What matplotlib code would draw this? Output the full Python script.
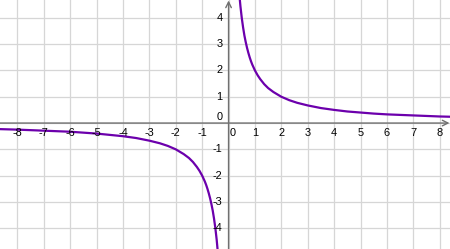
import matplotlib
matplotlib.use("Agg")
import matplotlib.pyplot as plt

# points (right and left branch)
x_right = [0.42, 0.45, 0.5, 0.55, 0.6, 0.65, 0.7, 0.75, 0.8, 0.85, 0.9, 0.95, 1.0, 1.1, 1.2,
           1.35, 1.5, 1.7, 2.0, 2.3, 2.6, 3.0, 3.5, 4.0, 4.5, 5.0, 5.5, 6.0, 7.0, 8.0, 8.4]
y_right = [4.76, 4.44, 4.0, 3.64, 3.33, 3.08, 2.86, 2.67, 2.5, 2.35, 2.22, 2.11, 2.0, 1.82, 1.67,
           1.48, 1.33, 1.18, 1.0, 0.87, 0.77, 0.67, 0.57, 0.5, 0.44, 0.4, 0.36, 0.33, 0.29, 0.25, 0.24]
x_left = [-8.7, -8.0, -7.0, -6.0, -5.0, -4.0, -3.5, -3.0, -2.6, -2.3, -2.0, -1.7, -1.5, -1.35,
          -1.2, -1.1, -1.0, -0.95, -0.9, -0.85, -0.8, -0.75, -0.7, -0.65, -0.6, -0.55, -0.5,
          -0.45, -0.41]
y_left = [-0.23, -0.25, -0.29, -0.33, -0.4, -0.5, -0.57, -0.67, -0.77, -0.87, -1.0, -1.18, -1.33,
          -1.48, -1.67, -1.82, -2.0, -2.11, -2.22, -2.35, -2.5, -2.67, -2.86, -3.08, -3.33,
          -3.64, -4.0, -4.44, -4.88]

x_ticks = [-8, -7, -6, -5, -4, -3, -2, -1, 1, 2, 3, 4, 5, 6, 7, 8]
y_ticks = [-4, -3, -2, -1, 1, 2, 3, 4]

fig = plt.figure(figsize=(4.5, 2.49), dpi=100)
ax = fig.add_axes([0, 0, 1, 1])
ax.set_xlim(-8.66, 8.39)
ax.set_ylim(-4.79, 4.68)

for s in ax.spines.values():
    s.set_visible(False)
ax.set_xticks(range(-8, 9))
ax.set_yticks(range(-4, 5))
ax.tick_params(length=0, labelbottom=False, labelleft=False)
ax.grid(True, color="#d6d6d6", linewidth=0.9)
ax.set_axisbelow(True)

# axes with arrows
ax.annotate("", xy=(8.37, 0), xytext=(-8.66, 0),
            arrowprops=dict(arrowstyle="->", color="#707070", lw=1.0, shrinkA=0, shrinkB=0))
ax.annotate("", xy=(0, 4.66), xytext=(0, -4.79),
            arrowprops=dict(arrowstyle="->", color="#707070", lw=1.0, shrinkA=0, shrinkB=0))

fs = 7.9
fam = "Liberation Sans"
for t in x_ticks:
    ax.annotate(str(t), (t, 0), xytext=(0, -7.3), textcoords="offset points",
                ha="center", va="center", fontsize=fs, family=fam, color="black")
ax.annotate("0", (0, 0), xytext=(3.2, -7.3), textcoords="offset points",
            ha="center", va="center", fontsize=fs, family=fam)
ax.annotate("0", (0, 0), xytext=(-4.5, 4.2), textcoords="offset points",
            ha="right", va="center", fontsize=fs, family=fam)
for t in y_ticks:
    ax.annotate(str(t), (0, t), xytext=(-4.5, 0), textcoords="offset points",
                ha="right", va="center", fontsize=fs, family=fam)

ax.plot(x_right, y_right, color="#6c00ac", linewidth=1.6, solid_capstyle="butt")
ax.plot(x_left, y_left, color="#6c00ac", linewidth=1.6, solid_capstyle="butt")

fig.savefig("out.png", dpi=100)
